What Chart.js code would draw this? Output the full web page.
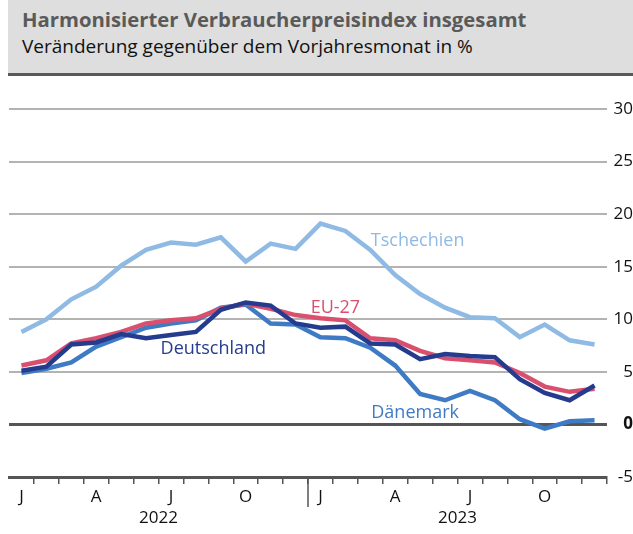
<!DOCTYPE html>
<html lang="de">
<head>
<meta charset="utf-8">
<script src="https://cdn.jsdelivr.net/npm/chart.js@4.4.1/dist/chart.umd.min.js"></script>
<style>
    html, body { margin: 0; padding: 0; background: #fff; }
    #wrap { position: relative; width: 633px; height: 534px; overflow: hidden; }
    #head {
        position: absolute; left: 8px; top: 0; width: 625px; height: 73px;
        background: #dedede; border-bottom: 3px solid #595959;
        font-family: "Open Sans", sans-serif;
    }
    #head .t1 { position: absolute; left: 14px; top: 5px; font-size: 20.3px; font-weight: 700; color: #5a5a5a; white-space: nowrap; }
    #head .t2 { position: absolute; left: 14px; top: 33px; font-size: 19px; color: #111; white-space: nowrap; }
    #c { position: absolute; left: 0; top: 0; }
</style>
</head>
<body>
<div id="wrap">
    <canvas id="c" width="633" height="534"></canvas>
    <div id="head">
        <div class="t1">Harmonisierter Verbraucherpreisindex insgesamt</div>
        <div class="t2">Veränderung gegenüber dem Vorjahresmonat in %</div>
    </div>
</div>
<script>
// Monate Jan 2022 - Dez 2023
const months = ['2022-01', '2022-02', '2022-03', '2022-04', '2022-05', '2022-06',
    '2022-07', '2022-08', '2022-09', '2022-10', '2022-11', '2022-12',
    '2023-01', '2023-02', '2023-03', '2023-04', '2023-05', '2023-06',
    '2023-07', '2023-08', '2023-09', '2023-10', '2023-11', '2023-12'];
const monthLetters = ['J', 'F', 'M', 'A', 'M', 'J', 'J', 'A', 'S', 'O', 'N', 'D'];
const years = ['2022', '2023'];
const yTicks = [-5, 0, 5, 10, 15, 20, 25, 30];

const deutschland = [5.1, 5.5, 7.6, 7.8, 8.6, 8.2, 8.5, 8.8, 10.9, 11.6, 11.3, 9.6,
    9.2, 9.3, 7.7, 7.6, 6.2, 6.7, 6.5, 6.4, 4.3, 3.0, 2.3, 3.7];
const eu27 = [5.6, 6.1, 7.7, 8.2, 8.8, 9.6, 9.9, 10.1, 11.0, 11.5, 11.0, 10.4,
    10.1, 9.9, 8.2, 8.0, 7.0, 6.3, 6.1, 5.9, 4.9, 3.6, 3.1, 3.4];
const daenemark = [4.9, 5.3, 5.9, 7.4, 8.3, 9.2, 9.6, 9.9, 11.1, 11.4, 9.6, 9.5,
    8.3, 8.2, 7.3, 5.6, 2.9, 2.3, 3.2, 2.3, 0.5, -0.4, 0.3, 0.4];
const tschechien = [8.8, 10.0, 11.9, 13.1, 15.1, 16.6, 17.3, 17.1, 17.8, 15.5, 17.2, 16.7,
    19.1, 18.4, 16.6, 14.2, 12.4, 11.1, 10.2, 10.1, 8.3, 9.5, 8.0, 7.6];

const FONT = '"Open Sans", sans-serif';
const DARK = '#555555';

// Beschriftungen direkt an den Linien
const lineLabels = [
    { text: 'Tschechien', color: '#8fbae4', x: 15.9, y: 17.5 },
    { text: 'EU-27', color: '#d9506f', x: 12.6, y: 11.1 },
    { text: 'Deutschland', color: '#253c8e', x: 7.7, y: 7.2 },
    { text: 'Dänemark', color: '#3e7bc4', x: 15.8, y: 1.1 }
];

const labelPlugin = {
    id: 'lineLabels',
    afterDatasetsDraw(chart) {
        const ctx = chart.ctx;
        const x = chart.scales.x;
        const y = chart.scales.y;
        ctx.save();
        ctx.font = '18px ' + FONT;
        ctx.textAlign = 'center';
        ctx.textBaseline = 'middle';
        lineLabels.forEach(l => {
            ctx.fillStyle = l.color;
            const px = x.getPixelForValue(0) + (x.getPixelForValue(1) - x.getPixelForValue(0)) * l.x;
            ctx.fillText(l.text, px, y.getPixelForValue(l.y));
        });
        // Trennstrich zwischen den Jahren
        const sep = (x.getPixelForValue(11) + x.getPixelForValue(12)) / 2;
        ctx.strokeStyle = DARK;
        ctx.lineWidth = 1.5;
        ctx.beginPath();
        ctx.moveTo(sep, chart.chartArea.bottom);
        ctx.lineTo(sep, chart.chartArea.bottom + 30);
        ctx.stroke();
        ctx.restore();
    }
};

function series(label, data, color, order) {
    return {
        label: label,
        data: data,
        borderColor: color,
        backgroundColor: color,
        borderWidth: 4.5,
        pointRadius: 0,
        tension: 0,
        order: order
    };
}

new Chart(document.getElementById('c').getContext('2d'), {
    type: 'line',
    data: {
        labels: months,
        datasets: [
            series('Deutschland', deutschland, '#253c8e', 0),
            series('EU-27', eu27, '#d9506f', 1),
            series('Dänemark', daenemark, '#3e7bc4', 2),
            series('Tschechien', tschechien, '#8fbae4', 3)
        ]
    },
    options: {
        responsive: false,
        animation: false,
        layout: { padding: { left: 9, top: 109, right: 0, bottom: 0 } },
        plugins: {
            legend: { display: false },
            tooltip: { enabled: false }
        },
        scales: {
            x: {
                type: 'category',
                position: 'bottom',
                offset: true,
                weight: 0,
                grid: {
                    offset: true,
                    drawOnChartArea: false,
                    tickLength: 7,
                    lineWidth: 1.5,
                    color: c => (c.index === 0 || c.index === months.length) ? 'rgba(0,0,0,0)' : DARK
                },
                border: { display: true, color: DARK, width: 3 },
                ticks: {
                    autoSkip: false,
                    maxRotation: 0,
                    padding: 3,
                    color: '#111',
                    font: { family: FONT, size: 17 },
                    callback: (v, i) => i % 3 === 0 ? monthLetters[i % 12] : ''
                },
                afterFit: s => { s.height = 30; }
            },
            x2: {
                type: 'category',
                position: 'bottom',
                labels: years,
                offset: true,
                weight: 1,
                grid: { display: false, drawTicks: false },
                border: { display: false },
                ticks: {
                    padding: 1,
                    color: '#111',
                    font: { family: FONT, size: 17 }
                },
                afterFit: s => { s.height = 27; }
            },
            y: {
                position: 'right',
                min: -5,
                max: 30,
                afterBuildTicks: s => { s.ticks = yTicks.map(v => ({ value: v })); },
                grid: {
                    drawTicks: false,
                    lineWidth: c => c.tick && c.tick.value === 0 ? 3 : 2,
                    color: c => c.tick && (c.tick.value === 0 || c.tick.value === -5) ? DARK : '#b3b3b3'
                },
                border: { display: false },
                ticks: {
                    padding: 5,
                    crossAlign: 'far',
                    color: '#111',
                    font: c => ({ family: FONT, size: 17, weight: c.tick && c.tick.value === 0 ? 'bold' : 'normal' })
                },
                afterFit: s => { s.width = 26; }
            }
        }
    },
    plugins: [labelPlugin]
});
</script>
</body>
</html>
